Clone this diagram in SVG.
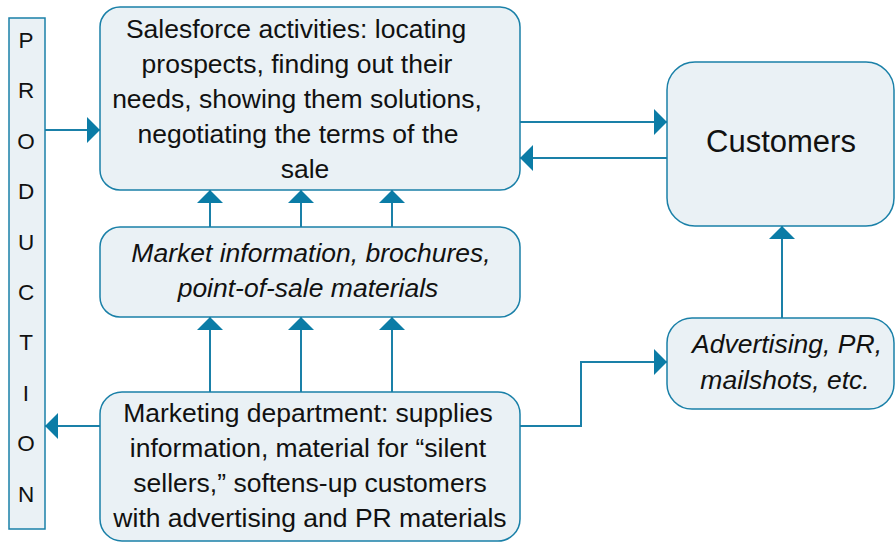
<svg xmlns="http://www.w3.org/2000/svg" width="895" height="542" viewBox="0 0 895 542">
<style>
.box{fill:#eaf1f5;stroke:#1a80a8;stroke-width:1.5}
.t{font-family:"Liberation Sans",Arial,sans-serif;font-size:26.5px;fill:#111;text-anchor:middle}
.i{font-style:italic}
.p{font-size:22.5px}
.c{font-size:31px}
.e{fill:none;stroke:#1a80a8;stroke-width:2;marker-end:url(#ah)}
</style>
<defs>
<marker id="ah" markerUnits="userSpaceOnUse" markerWidth="14" markerHeight="26" refX="13" refY="13" orient="auto" viewBox="0 0 14 26">
<path d="M0,0 L13,13 L0,26 Z" fill="#0b7ca6"/>
</marker>
</defs>
<rect width="895" height="542" fill="#fff"/>
<g id="connectors">
<path class="e" d="M45,130 H100"/>
<path class="e" d="M520,122 H667"/>
<path class="e" d="M667,158 H520"/>
<path class="e" d="M210,227 V190"/>
<path class="e" d="M301,227 V190"/>
<path class="e" d="M392,227 V190"/>
<path class="e" d="M210,392 V317"/>
<path class="e" d="M301,392 V317"/>
<path class="e" d="M392,392 V317"/>
<path class="e" d="M100,426 H45"/>
<path class="e" d="M520,426 H581 V362 H667"/>
<path class="e" d="M782,318 V226"/>
</g>
<g id="production">
<rect class="box" x="9" y="18" width="36" height="511"/>
<text class="t p" x="26" y="48">P</text>
<text class="t p" x="26" y="98">R</text>
<text class="t p" x="26" y="149">O</text>
<text class="t p" x="26" y="199">D</text>
<text class="t p" x="26" y="250">U</text>
<text class="t p" x="26" y="300">C</text>
<text class="t p" x="26" y="350">T</text>
<text class="t p" x="26" y="401">I</text>
<text class="t p" x="26" y="451">O</text>
<text class="t p" x="26" y="502">N</text>
</g>
<g id="salesforce">
<rect class="box" x="100" y="7" width="420" height="183" rx="20"/>
<text class="t" x="296" y="38">Salesforce activities: locating</text>
<text class="t" x="297" y="73">prospects, finding out their</text>
<text class="t" x="297" y="108">needs, showing them solutions,</text>
<text class="t" x="298" y="143">negotiating the terms of the</text>
<text class="t" x="305" y="178">sale</text>
</g>
<g id="market-info">
<rect class="box" x="100" y="227" width="420" height="90" rx="20"/>
<text class="t i" x="311" y="262">Market information, brochures,</text>
<text class="t i" x="308" y="297">point-of-sale materials</text>
</g>
<g id="marketing">
<rect class="box" x="100" y="392" width="420" height="149" rx="22"/>
<text class="t" x="308" y="422">Marketing department: supplies</text>
<text class="t" x="308" y="457">information, material for “silent</text>
<text class="t" x="310" y="492">sellers,” softens-up customers</text>
<text class="t" x="310" y="527">with advertising and PR materials</text>
</g>
<g id="customers">
<rect class="box" x="667" y="62" width="227" height="164" rx="28"/>
<text class="t c" x="781" y="152">Customers</text>
</g>
<g id="advertising">
<rect class="box" x="667" y="318" width="227" height="91" rx="25"/>
<text class="t i" x="787" y="353">Advertising, PR,</text>
<text class="t i" x="785" y="389">mailshots, etc.</text>
</g>
</svg>
